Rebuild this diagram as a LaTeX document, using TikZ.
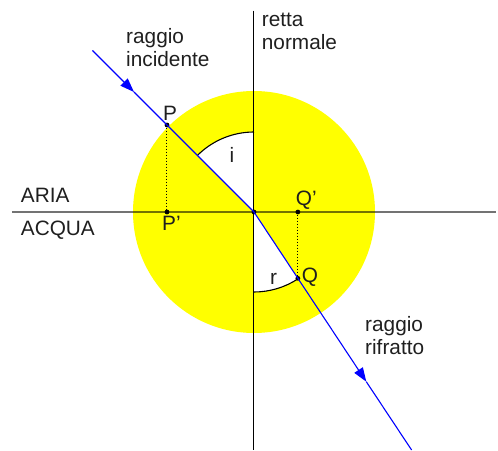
\documentclass[tikz,border=0pt]{standalone}
\usepackage{fontspec}
\setmainfont{Liberation Sans}
\usetikzlibrary{arrows.meta}
\definecolor{discyellow}{RGB}{255,255,0}
\tikzset{
  lbl/.style={inner sep=0pt, anchor=base west, text=black!88, font=\fontsize{20.8}{23}\selectfont},
  two/.style={lbl, align=left},
  ray/.style={draw=blue, line width=1.1pt},
  rayarrow/.style={ray, -{Triangle[length=14pt,width=10pt]}},
  axisline/.style={draw=black, draw opacity=0.55, line width=1.4pt},
  normal/.style={draw=black, line width=1pt},
  proj/.style={draw=black, line width=1pt, dotted},
  dot/.style={circle, fill=black, inner sep=0pt, minimum size=4.8pt},
  sectorarc/.style={draw=black, line width=1.1pt}
}
\begin{document}
\begin{tikzpicture}[x=1pt,y=1pt]
\useasboundingbox (-254,-238) rectangle (244,212);
% key points
\coordinate (O) at (0,0);
\coordinate (S) at (-161.5,161.5);
\coordinate (A) at (-120,120);
\coordinate (E) at (157.6,-238);
\coordinate (B) at (112.3,-169.7);
\coordinate (NT) at (0,201.3);
\coordinate (NB) at (0,-238);
\coordinate (HL) at (-242,0);
\coordinate (HR) at (242,0);
% disc
\fill[discyellow] (O) circle[radius=121];
% angle sectors
\fill[white] (O) -- (90:80) arc[start angle=90, end angle=135, radius=80] -- cycle;
\fill[white] (O) -- (-90:80) arc[start angle=-90, end angle=-56.5, radius=80] -- cycle;
\draw[sectorarc] (90:80) arc[start angle=90, end angle=135, radius=80];
\draw[sectorarc] (-90:80) arc[start angle=-90, end angle=-56.5, radius=80];
% interface and normal
\draw[axisline] (HL) -- (HR);
\draw[normal] (NT) -- (NB);
% points
\node[dot] (P) at (-87,87) {};
\node[dot] (Pp) at (-87,0) {};
\node[dot] (Q) at (-56.5:79.5) {};
\node[dot] (Qp) at (Q |- O) {};
\node[dot] (Oc) at (O) {};
% rays
\draw[rayarrow] (S) -- (A);
\draw[ray] (A) -- (Oc.center);
\draw[rayarrow] (Oc.center) -- (B);
\draw[ray] (B) -- (E);
% projections
\draw[proj] (P) -- (Pp);
\draw[proj] (Qp) -- (Q);
% labels
\node[lbl] (lP) at (-91,92) {P};
\node[lbl] (lPp) at (-92,-18) {P'};
\node[lbl] (lQp) at (41.7,7) {Q'};
\node[lbl] (lQ) at (47.7,-70.7) {Q};
\node[lbl] (li) at (-24.5,49.3) {i};
\node[lbl] (lr) at (16,-72) {r};
\node[lbl] (aria) at (-233.3,9.3) {ARIA};
\node[lbl] (acqua) at (-233.3,-23) {ACQUA};
\node[two] (inc) at (-128,145.7) {raggio\\incidente};
\node[two] (norm) at (7.7,162.3) {retta\\normale};
\node[two] (rif) at (111,-142.7) {raggio\\rifratto};
\end{tikzpicture}
\end{document}
